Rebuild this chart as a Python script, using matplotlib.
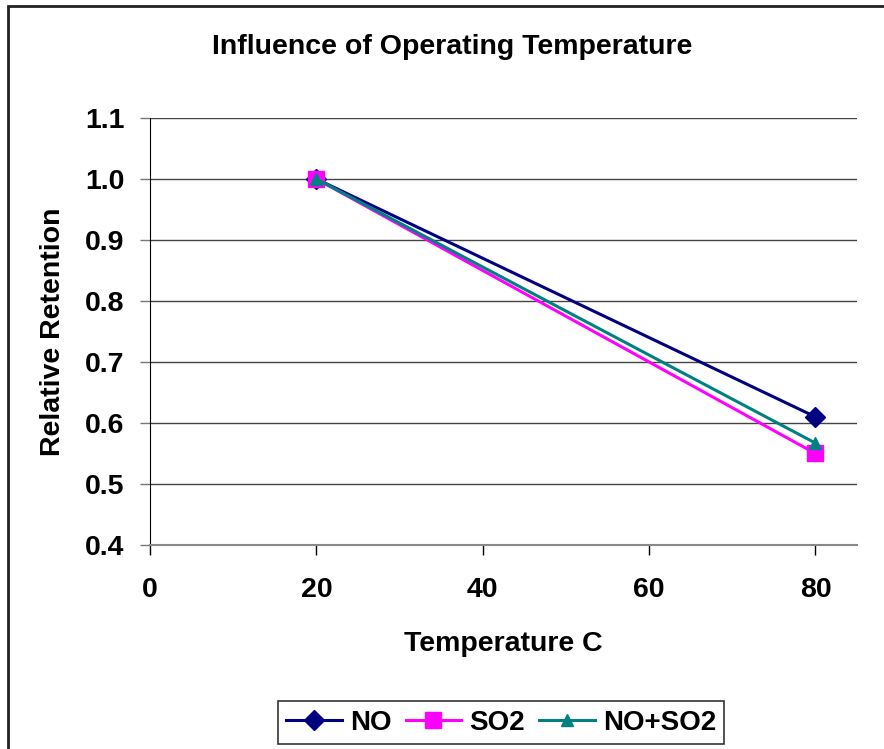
import matplotlib.pyplot as plt
from matplotlib.patches import Rectangle

plt.rcParams['font.family'] = ['Liberation Sans', 'DejaVu Sans']
plt.rcParams['font.weight'] = 'bold'

temps = [20, 80]
no = [1.0, 0.61]
so2 = [1.0, 0.55]
no_so2 = [1.0, 0.567]

fig = plt.figure(figsize=(8.84, 7.49), dpi=100)
ax = fig.add_axes([0.1697, 0.2724, 0.7998, 0.5701])

ax.plot(temps, no, color='#000080', marker='D', markersize=10, linewidth=2.2, label='NO', zorder=3)
ax.plot(temps, so2, color='#FF00FF', marker='s', markersize=12, linewidth=2.2, label='SO2', zorder=3)
ax.plot(temps, no_so2, color='#008080', marker='^', markersize=9, linewidth=2.2, label='NO+SO2', zorder=4)

ax.set_xlim(0, 85)
ax.set_ylim(0.4, 1.1)
ax.set_xticks([0, 20, 40, 60, 80])
ax.set_yticks([0.4, 0.5, 0.6, 0.7, 0.8, 0.9, 1.0, 1.1])
ax.set_yticklabels(['0.4', '0.5', '0.6', '0.7', '0.8', '0.9', '1.0', '1.1'])
ax.tick_params(labelsize=20.5, direction='out', length=7.2, width=1, color='#777777', pad=11)
ax.tick_params(axis='x', color='black', pad=16)
ax.grid(axis='y', color='#444444', linewidth=1)
ax.set_axisbelow(True)

for s in ['top', 'right']:
    ax.spines[s].set_visible(False)
ax.spines['left'].set_color('black')
ax.spines['bottom'].set_color('#888888')
ax.spines['bottom'].set_linewidth(1.5)

ax.set_xlabel('Temperature C', fontsize=20.5, fontweight='bold', labelpad=20)
ax.set_ylabel('Relative Retention', fontsize=20.5, fontweight='bold', labelpad=14)
fig.text(0.511, 0.937, 'Influence of Operating Temperature', fontsize=20.5, fontweight='bold',
         ha='center', va='center')

leg = fig.legend(loc='center', bbox_to_anchor=(0.567, 0.035), ncol=3, fontsize=20,
                 frameon=True, fancybox=False, edgecolor='black', handlelength=2.0,
                 columnspacing=0.5, handletextpad=0.3, borderpad=0.3)
leg.get_frame().set_linewidth(1.2)

fig.patches.append(Rectangle((8 / 884, -0.01), 1.05, 1 - 6 / 749 + 0.01, transform=fig.transFigure,
                             fill=False, edgecolor='#222222', linewidth=2))

fig.savefig('out.png', dpi=100)
